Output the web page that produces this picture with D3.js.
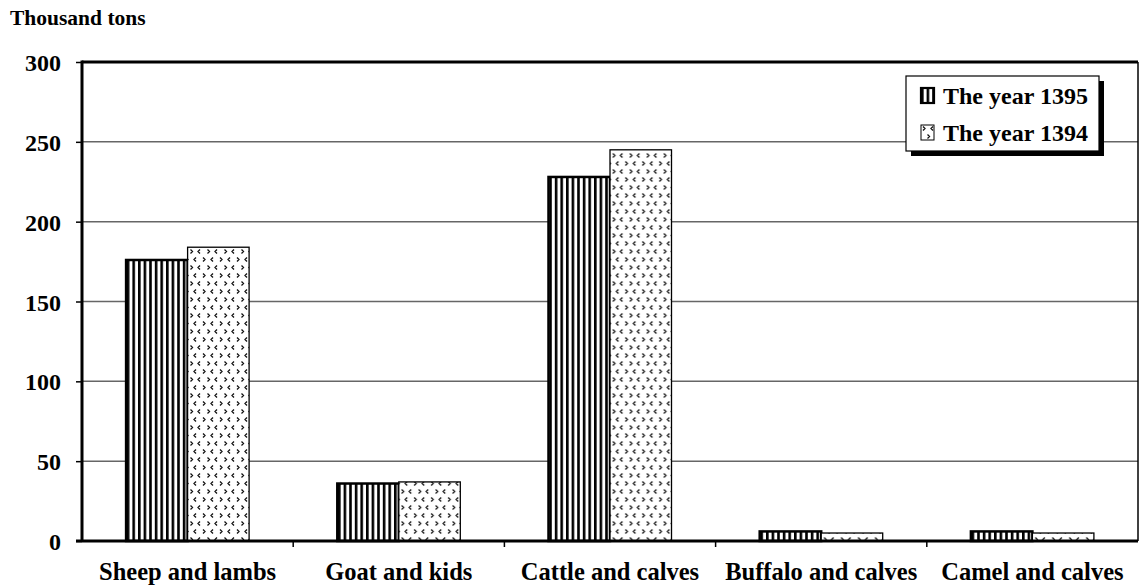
<!DOCTYPE html>
<html><head><meta charset="utf-8">
<script src="https://cdn.jsdelivr.net/npm/d3@7"></script>
<style>body{margin:0;background:#fff}svg{display:block}text{font-family:"Liberation Serif","Times New Roman",serif;font-weight:bold}</style>
</head><body>
<script>
const categories = ["Sheep and lambs","Goat and kids","Cattle and calves","Buffalo and calves","Camel and calves"];
const series = ["The year 1395","The year 1394"];
const values1395 = [176, 36, 228, 6, 6];
const values1394 = [184, 37, 245, 5, 5];
const yTicks = [0,50,100,150,200,250,300];
const yTitle = "Thousand tons";

const W=1141,H=587;
const L=82,R=1138,T=62,B=541;
const svg=d3.select("body").append("svg").attr("width",W).attr("height",H);
const defs=svg.append("defs");
const p1=defs.append("pattern").attr("id","vstripe").attr("patternUnits","userSpaceOnUse").attr("width",5.6).attr("height",6);
p1.append("rect").attr("width",5.6).attr("height",6).attr("fill","#fff");
p1.append("rect").attr("x",0).attr("width",2.6).attr("height",6).attr("fill","#000");
const p2=defs.append("pattern").attr("id","chev").attr("patternUnits","userSpaceOnUse").attr("width",17).attr("height",16);
p2.append("rect").attr("width",17).attr("height",16).attr("fill","#fff");
p2.append("path").attr("d","M2,1.5 L4,3.5 L2,5.5 M12,1.5 L10,3.5 L12,5.5 M6.5,9.5 L8.5,11.5 L6.5,13.5 M16,9.5 L14,11.5 L16,13.5")
 .attr("stroke","#111").attr("stroke-width",1.3).attr("fill","none");

const x0=d3.scaleBand().domain(categories).range([L,R]).padding(0);
const x1=d3.scaleBand().domain(series).range([0,x0.bandwidth()]).paddingInner(0).paddingOuter(0.717);
const y=d3.scaleLinear().domain([0,300]).range([B,T]);

// gridlines
svg.append("g").selectAll("line").data(yTicks.filter(d=>d>0&&d<300)).join("line")
 .attr("x1",L).attr("x2",R).attr("y1",d=>y(d)).attr("y2",d=>y(d))
 .attr("stroke","#666").attr("stroke-width",1.5);

// bars
const data=categories.map((c,i)=>({c,vals:[{s:series[0],v:values1395[i]},{s:series[1],v:values1394[i]}]}));
const fills={[series[0]]:"url(#vstripe)",[series[1]]:"url(#chev)"};
const g=svg.append("g").selectAll("g").data(data).join("g").attr("transform",d=>`translate(${x0(d.c)},0)`);
g.selectAll("rect").data(d=>d.vals).join("rect")
 .attr("x",d=>x1(d.s)).attr("width",x1.bandwidth())
 .attr("y",d=>y(d.v)).attr("height",d=>B-y(d.v))
 .attr("fill",d=>fills[d.s])
 .attr("stroke","#000").attr("stroke-width",d=>d.s===series[0]?2.5:1.3);

// frame
svg.append("line").attr("x1",L).attr("x2",R).attr("y1",T).attr("y2",T).attr("stroke","#000").attr("stroke-width",3);
svg.append("line").attr("x1",R).attr("x2",R).attr("y1",T).attr("y2",B).attr("stroke","#000").attr("stroke-width",1.5);

// y axis
const ya=svg.append("g").attr("transform",`translate(${L},0)`).call(d3.axisLeft(y).tickValues(yTicks).tickSize(6).tickPadding(15));
ya.select(".domain").attr("stroke","#000").attr("stroke-width",3).attr("d",`M0,${T-1.5}V${B}`);
ya.selectAll(".tick line").attr("stroke","#000").attr("stroke-width",1.5);
ya.selectAll("text").attr("font-size",24).attr("fill","#000").attr("font-family","Liberation Serif").attr("font-weight","bold").attr("dy","0.36em");

// x axis
const xa=svg.append("g").attr("transform",`translate(0,${B})`).call(d3.axisBottom(x0).tickSize(0).tickPadding(0));
xa.select(".domain").remove();
xa.append("line").attr("x1",L-6).attr("x2",R).attr("stroke","#000").attr("stroke-width",3);
xa.selectAll(".tick text").attr("font-size",24.5).attr("fill","#000").attr("font-family","Liberation Serif").attr("font-weight","bold").attr("y",39).attr("dy",null);
xa.selectAll(".sep").data(categories.slice(1)).join("line").attr("class","sep")
 .attr("x1",d=>x0(d)).attr("x2",d=>x0(d)).attr("y1",0).attr("y2",6).attr("stroke","#000").attr("stroke-width",1.5);

// title
svg.append("text").attr("x",10).attr("y",25).attr("font-size",21.5).text(yTitle);

// legend
const lx=906,ly=76,lw=193,lh=75;
svg.append("rect").attr("x",lx+5).attr("y",ly+5).attr("width",lw).attr("height",lh).attr("fill","#000");
svg.append("rect").attr("x",lx).attr("y",ly).attr("width",lw).attr("height",lh).attr("fill","#fff").attr("stroke","#000").attr("stroke-width",1.2);
const lg=svg.append("g").selectAll("g").data(series).join("g").attr("transform",(d,i)=>`translate(${lx+15},${ly+12+i*37})`);
lg.append("rect").attr("width",13).attr("height",15).attr("fill",d=>fills[d]).attr("stroke","#000").attr("stroke-width",d=>d===series[0]?2.2:1);
lg.append("text").attr("x",22).attr("y",16).attr("font-size",24).text(d=>d);
</script>
</body></html>
